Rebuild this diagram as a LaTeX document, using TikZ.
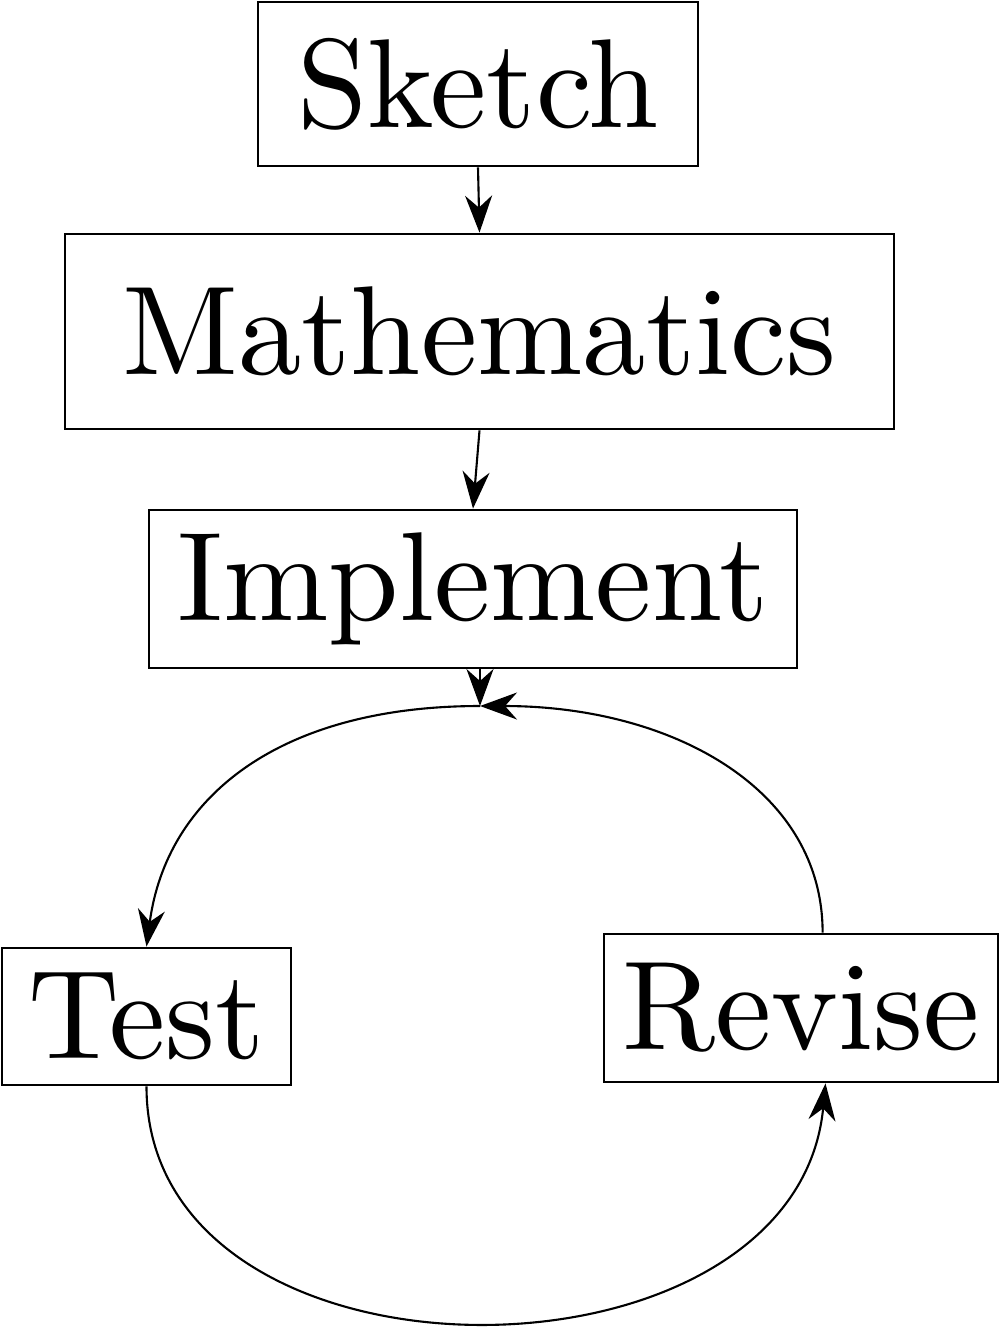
\documentclass[tikz,border=0pt]{standalone}
\usepackage{fontspec}
\setmainfont{lmroman10-regular}[Extension=.otf]
\usetikzlibrary{arrows.meta}
\begin{document}
\begin{tikzpicture}[
  box/.style={draw, line width=0.8pt, inner sep=0pt, font=\fontsize{36}{40}\selectfont},
  conn/.style={line width=0.6pt, -{Stealth[length=0.37cm, width=0.27cm, inset=0.12cm]}}
]
\useasboundingbox (0,0) rectangle (10,-13.27);
\node[box, minimum width=4.40cm, minimum height=1.64cm] (sketch) at (4.78,-0.84) {Sketch};
\node[box, minimum width=8.29cm, minimum height=1.95cm] (math) at (4.795,-3.315) {Mathematics};
\node[box, minimum width=6.48cm, minimum height=1.58cm] (impl) at (4.73,-5.89) {Implement};
\node[box, minimum width=2.89cm, minimum height=1.37cm] (test) at (1.465,-10.165) {Test};
\node[box, minimum width=3.94cm, minimum height=1.48cm] (revise) at (8.01,-10.08) {Revise};
\coordinate (top) at (4.80,-7.06);
\draw[conn] (sketch.south) -- (math.north);
\draw[conn] (math.south) -- (impl.north);
\draw[conn] (impl.south -| top) -- (top);
\draw[conn] (top) .. controls +(-2.0,0) and +(0.2,1.5) .. (test.north);
\draw[conn] (test.south) .. controls +(0,-3.16) and +(-0.3,-3.16) .. (revise.-72);
\draw[conn] (revise.74) .. controls +(0,1.45) and +(1.9,0) .. (top);
\end{tikzpicture}
\end{document}
